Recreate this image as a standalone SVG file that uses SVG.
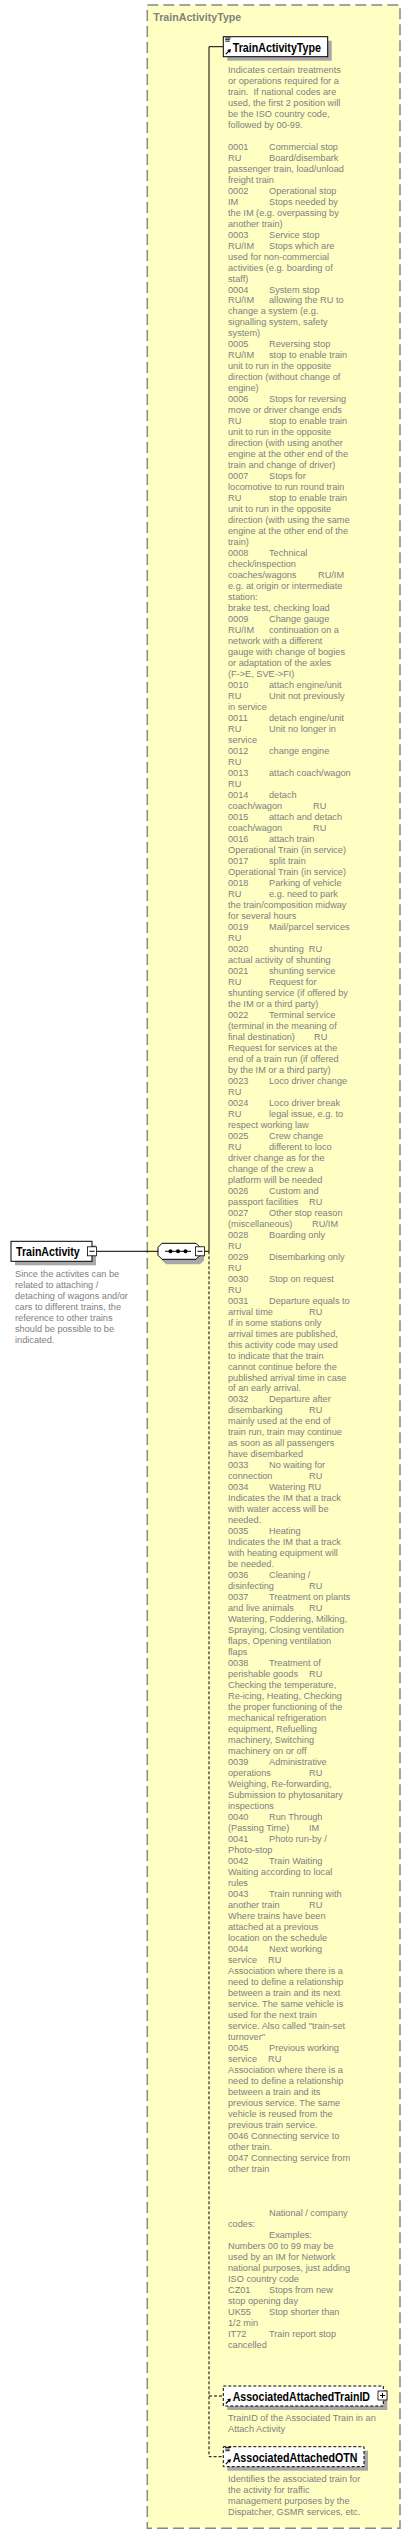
<svg xmlns="http://www.w3.org/2000/svg" xmlns:xlink="http://www.w3.org/1999/xlink" width="411" height="2534" viewBox="0 0 411 2534">
<style>
.d{font-family:"Liberation Sans",Arial,sans-serif;font-size:9.2px;fill:#808080}
.lbl{font-family:"Liberation Sans",Arial,sans-serif;font-size:12px;font-weight:bold;fill:#000}
.ttl{font-family:"Liberation Sans",Arial,sans-serif;font-size:11px;font-weight:bold;fill:#808080}
.box{fill:#fff;stroke:#000;stroke-width:1}
.obox{fill:#fff;stroke:#000;stroke-width:1;stroke-dasharray:3 2}
.sh{fill:#a8a8a8}
.con{fill:none;stroke:#000;stroke-width:1}
.dcon{fill:none;stroke:#000;stroke-width:1;stroke-dasharray:3 2}
</style>
<defs>
<g id="arr"><path d="M2.5 17.5 L5.5 14.5" stroke="#000" stroke-width="1.2" fill="none"/><polygon points="3.8,13.2 7.6,12.4 6.8,16.2" fill="#000"/></g>
<g id="lines" stroke="#000" stroke-width="0.9"><path d="M2 1.3 H7.5 M2 2.9 H6.5 M2 4.5 H6.5"/></g>
</defs>
<rect x="147.3" y="5" width="252.7" height="2523.3" fill="#ffffc4" stroke="#888" stroke-width="1.5" stroke-dasharray="11 5"/>
<text class="ttl" x="153.3" y="21" textLength="88" lengthAdjust="spacingAndGlyphs">TrainActivityType</text>
<g id="connectors">
<path class="con" d="M96 1251.3 H158"/>
<path class="con" d="M201 1251.3 H209 M209 1251.3 V46.7 H223.3"/>
<path class="dcon" d="M209 1251.3 V2456.7 H223.3 M209 2396 H223.3"/>
</g>
<g id="TrainActivity">
<rect class="sh" x="15" y="1245.3" width="81" height="20"/>
<rect class="box" x="11" y="1241.3" width="81" height="20"/>
<text class="lbl" x="16" y="1256" textLength="63.7" lengthAdjust="spacingAndGlyphs">TrainActivity</text>
<rect x="87.5" y="1246.8" width="9" height="9" fill="#fff" stroke="#000" stroke-width="0.8"/>
<path d="M89.5 1251.3 H94.5" stroke="#000" stroke-width="1"/>
<text class="d"><tspan x="15" y="1277">Since the activites can be</tspan><tspan x="15" dy="10.95">related to attaching /</tspan><tspan x="15" dy="10.95">detaching of wagons and/or</tspan><tspan x="15" dy="10.95">cars to different trains, the</tspan><tspan x="15" dy="10.95">reference to other trains</tspan><tspan x="15" dy="10.95">should be possible to be</tspan><tspan x="15" dy="10.95">indicated.</tspan></text>
</g>
<g id="sequence">
<path d="M166 1247.3 H200 L204 1251.3 V1260.3 L200 1264.3 H166 L162 1260.3 V1251.3 Z" fill="#a8a8a8"/>
<path d="M162 1243.3 H196 L200 1247.3 V1255.3 L196 1259.3 H162 L158 1255.3 V1247.3 Z" fill="#fff" stroke="#000" stroke-width="1"/>
<path d="M165 1251.3 H191" stroke="#000" stroke-width="1"/>
<circle cx="170.5" cy="1251.3" r="2" fill="#000"/><circle cx="178" cy="1251.3" r="2" fill="#000"/><circle cx="185.5" cy="1251.3" r="2" fill="#000"/>
<rect x="195.5" y="1246.8" width="9" height="9" fill="#fff" stroke="#000" stroke-width="0.8"/>
<path d="M197.5 1251.3 H202.5" stroke="#000" stroke-width="1"/>
</g>
<g id="TrainActivityType">
<rect class="sh" x="227.3" y="40.7" width="104.4" height="20"/>
<rect class="box" x="223.3" y="36.7" width="104.4" height="20"/>
<use xlink:href="#lines" x="223.3" y="36.7"/>
<use xlink:href="#arr" x="223.3" y="36.7"/>
<text class="lbl" x="232.7" y="51.7" textLength="88.3" lengthAdjust="spacingAndGlyphs">TrainActivityType</text>
<text class="d"><tspan x="228" y="72.7">Indicates certain treatments</tspan><tspan x="228" dy="10.99">or operations required for a</tspan><tspan x="228" dy="10.99">train.&#160; If national codes are</tspan><tspan x="228" dy="10.99">used, the first 2 position will</tspan><tspan x="228" dy="10.99">be the ISO country code,</tspan><tspan x="228" dy="10.99">followed by 00-99.</tspan><tspan x="228" dy="21.98">0001</tspan><tspan x="269">Commercial stop</tspan><tspan x="228" dy="10.99">RU</tspan><tspan x="269">Board/disembark</tspan><tspan x="228" dy="10.99">passenger train, load/unload</tspan><tspan x="228" dy="10.99">freight train</tspan><tspan x="228" dy="10.99">0002</tspan><tspan x="269">Operational stop</tspan><tspan x="228" dy="10.99">IM</tspan><tspan x="269">Stops needed by</tspan><tspan x="228" dy="10.99">the IM (e.g. overpassing by</tspan><tspan x="228" dy="10.99">another train)</tspan><tspan x="228" dy="10.99">0003</tspan><tspan x="269">Service stop</tspan><tspan x="228" dy="10.99">RU/IM</tspan><tspan x="269">Stops which are</tspan><tspan x="228" dy="10.99">used for non-commercial</tspan><tspan x="228" dy="10.99">activities (e.g. boarding of</tspan><tspan x="228" dy="10.99">staff)</tspan><tspan x="228" dy="10.99">0004</tspan><tspan x="269">System stop</tspan><tspan x="228" dy="10.99">RU/IM</tspan><tspan x="269">allowing the RU to</tspan><tspan x="228" dy="10.99">change a system (e.g.</tspan><tspan x="228" dy="10.99">signalling system, safety</tspan><tspan x="228" dy="10.99">system)</tspan><tspan x="228" dy="10.99">0005</tspan><tspan x="269">Reversing stop</tspan><tspan x="228" dy="10.99">RU/IM</tspan><tspan x="269">stop to enable train</tspan><tspan x="228" dy="10.99">unit to run in the opposite</tspan><tspan x="228" dy="10.99">direction (without change of</tspan><tspan x="228" dy="10.99">engine)</tspan><tspan x="228" dy="10.99">0006</tspan><tspan x="269">Stops for reversing</tspan><tspan x="228" dy="10.99">move or driver change ends</tspan><tspan x="228" dy="10.99">RU</tspan><tspan x="269">stop to enable train</tspan><tspan x="228" dy="10.99">unit to run in the opposite</tspan><tspan x="228" dy="10.99">direction (with using another</tspan><tspan x="228" dy="10.99">engine at the other end of the</tspan><tspan x="228" dy="10.99">train and change of driver)</tspan><tspan x="228" dy="10.99">0007</tspan><tspan x="269">Stops for</tspan><tspan x="228" dy="10.99">locomotive to run round train</tspan><tspan x="228" dy="10.99">RU</tspan><tspan x="269">stop to enable train</tspan><tspan x="228" dy="10.99">unit to run in the opposite</tspan><tspan x="228" dy="10.99">direction (with using the same</tspan><tspan x="228" dy="10.99">engine at the other end of the</tspan><tspan x="228" dy="10.99">train)</tspan><tspan x="228" dy="10.99">0008</tspan><tspan x="269">Technical</tspan><tspan x="228" dy="10.99">check/inspection</tspan><tspan x="228" dy="10.99">coaches/wagons</tspan><tspan x="318">RU/IM</tspan><tspan x="228" dy="10.99">e.g. at origin or intermediate</tspan><tspan x="228" dy="10.99">station:</tspan><tspan x="228" dy="10.99">brake test, checking load</tspan><tspan x="228" dy="10.99">0009</tspan><tspan x="269">Change gauge</tspan><tspan x="228" dy="10.99">RU/IM</tspan><tspan x="269">continuation on a</tspan><tspan x="228" dy="10.99">network with a different</tspan><tspan x="228" dy="10.99">gauge with change of bogies</tspan><tspan x="228" dy="10.99">or adaptation of the axles</tspan><tspan x="228" dy="10.99">(F-&gt;E, SVE-&gt;FI)</tspan><tspan x="228" dy="10.99">0010</tspan><tspan x="269">attach engine/unit</tspan><tspan x="228" dy="10.99">RU</tspan><tspan x="269">Unit not previously</tspan><tspan x="228" dy="10.99">in service</tspan><tspan x="228" dy="10.99">0011</tspan><tspan x="269">detach engine/unit</tspan><tspan x="228" dy="10.99">RU</tspan><tspan x="269">Unit no longer in</tspan><tspan x="228" dy="10.99">service</tspan><tspan x="228" dy="10.99">0012</tspan><tspan x="269">change engine</tspan><tspan x="228" dy="10.99">RU</tspan><tspan x="228" dy="10.99">0013</tspan><tspan x="269">attach coach/wagon</tspan><tspan x="228" dy="10.99">RU</tspan><tspan x="228" dy="10.99">0014</tspan><tspan x="269">detach</tspan><tspan x="228" dy="10.99">coach/wagon</tspan><tspan x="313">RU</tspan><tspan x="228" dy="10.99">0015</tspan><tspan x="269">attach and detach</tspan><tspan x="228" dy="10.99">coach/wagon</tspan><tspan x="313">RU</tspan><tspan x="228" dy="10.99">0016</tspan><tspan x="269">attach train</tspan><tspan x="228" dy="10.99">Operational Train (in service)</tspan><tspan x="228" dy="10.99">0017</tspan><tspan x="269">split train</tspan><tspan x="228" dy="10.99">Operational Train (in service)</tspan><tspan x="228" dy="10.99">0018</tspan><tspan x="269">Parking of vehicle</tspan><tspan x="228" dy="10.99">RU</tspan><tspan x="269">e.g. need to park</tspan><tspan x="228" dy="10.99">the train/composition midway</tspan><tspan x="228" dy="10.99">for several hours</tspan><tspan x="228" dy="10.99">0019</tspan><tspan x="269">Mail/parcel services</tspan><tspan x="228" dy="10.99">RU</tspan><tspan x="228" dy="10.99">0020</tspan><tspan x="269">shunting&#160; RU</tspan><tspan x="228" dy="10.99">actual activity of shunting</tspan><tspan x="228" dy="10.99">0021</tspan><tspan x="269">shunting service</tspan><tspan x="228" dy="10.99">RU</tspan><tspan x="269">Request for</tspan><tspan x="228" dy="10.99">shunting service (if offered by</tspan><tspan x="228" dy="10.99">the IM or a third party)</tspan><tspan x="228" dy="10.99">0022</tspan><tspan x="269">Terminal service</tspan><tspan x="228" dy="10.99">(terminal in the meaning of</tspan><tspan x="228" dy="10.99">final destination)</tspan><tspan x="314">RU</tspan><tspan x="228" dy="10.99">Request for services at the</tspan><tspan x="228" dy="10.99">end of a train run (if offered</tspan><tspan x="228" dy="10.99">by the IM or a third party)</tspan><tspan x="228" dy="10.99">0023</tspan><tspan x="269">Loco driver change</tspan><tspan x="228" dy="10.99">RU</tspan><tspan x="228" dy="10.99">0024</tspan><tspan x="269">Loco driver break</tspan><tspan x="228" dy="10.99">RU</tspan><tspan x="269">legal issue, e.g. to</tspan><tspan x="228" dy="10.99">respect working law</tspan><tspan x="228" dy="10.99">0025</tspan><tspan x="269">Crew change</tspan><tspan x="228" dy="10.99">RU</tspan><tspan x="269">different to loco</tspan><tspan x="228" dy="10.99">driver change as for the</tspan><tspan x="228" dy="10.99">change of the crew a</tspan><tspan x="228" dy="10.99">platform will be needed</tspan><tspan x="228" dy="10.99">0026</tspan><tspan x="269">Custom and</tspan><tspan x="228" dy="10.99">passport facilities</tspan><tspan x="309">RU</tspan><tspan x="228" dy="10.99">0027</tspan><tspan x="269">Other stop reason</tspan><tspan x="228" dy="10.99">(miscellaneous)</tspan><tspan x="312">RU/IM</tspan><tspan x="228" dy="10.99">0028</tspan><tspan x="269">Boarding only</tspan><tspan x="228" dy="10.99">RU</tspan><tspan x="228" dy="10.99">0029</tspan><tspan x="269">Disembarking only</tspan><tspan x="228" dy="10.99">RU</tspan><tspan x="228" dy="10.99">0030</tspan><tspan x="269">Stop on request</tspan><tspan x="228" dy="10.99">RU</tspan><tspan x="228" dy="10.99">0031</tspan><tspan x="269">Departure equals to</tspan><tspan x="228" dy="10.99">arrival time</tspan><tspan x="309">RU</tspan><tspan x="228" dy="10.99">If in some stations only</tspan><tspan x="228" dy="10.99">arrival times are published,</tspan><tspan x="228" dy="10.99">this activity code may used</tspan><tspan x="228" dy="10.99">to indicate that the train</tspan><tspan x="228" dy="10.99">cannot continue before the</tspan><tspan x="228" dy="10.99">published arrival time in case</tspan><tspan x="228" dy="10.99">of an early arrival.</tspan><tspan x="228" dy="10.99">0032</tspan><tspan x="269">Departure after</tspan><tspan x="228" dy="10.99">disembarking</tspan><tspan x="309">RU</tspan><tspan x="228" dy="10.99">mainly used at the end of</tspan><tspan x="228" dy="10.99">train run, train may continue</tspan><tspan x="228" dy="10.99">as soon as all passengers</tspan><tspan x="228" dy="10.99">have disembarked</tspan><tspan x="228" dy="10.99">0033</tspan><tspan x="269">No waiting for</tspan><tspan x="228" dy="10.99">connection</tspan><tspan x="309">RU</tspan><tspan x="228" dy="10.99">0034</tspan><tspan x="269">Watering RU</tspan><tspan x="228" dy="10.99">Indicates the IM that a track</tspan><tspan x="228" dy="10.99">with water access will be</tspan><tspan x="228" dy="10.99">needed.</tspan><tspan x="228" dy="10.99">0035</tspan><tspan x="269">Heating</tspan><tspan x="228" dy="10.99">Indicates the IM that a track</tspan><tspan x="228" dy="10.99">with heating equipment will</tspan><tspan x="228" dy="10.99">be needed.</tspan><tspan x="228" dy="10.99">0036</tspan><tspan x="269">Cleaning /</tspan><tspan x="228" dy="10.99">disinfecting</tspan><tspan x="309">RU</tspan><tspan x="228" dy="10.99">0037</tspan><tspan x="269">Treatment on plants</tspan><tspan x="228" dy="10.99">and live animals</tspan><tspan x="309">RU</tspan><tspan x="228" dy="10.99">Watering, Foddering, Milking,</tspan><tspan x="228" dy="10.99">Spraying, Closing ventilation</tspan><tspan x="228" dy="10.99">flaps, Opening ventilation</tspan><tspan x="228" dy="10.99">flaps</tspan><tspan x="228" dy="10.99">0038</tspan><tspan x="269">Treatment of</tspan><tspan x="228" dy="10.99">perishable goods</tspan><tspan x="309">RU</tspan><tspan x="228" dy="10.99">Checking the temperature,</tspan><tspan x="228" dy="10.99">Re-icing, Heating, Checking</tspan><tspan x="228" dy="10.99">the proper functioning of the</tspan><tspan x="228" dy="10.99">mechanical refrigeration</tspan><tspan x="228" dy="10.99">equipment, Refuelling</tspan><tspan x="228" dy="10.99">machinery, Switching</tspan><tspan x="228" dy="10.99">machinery on or off</tspan><tspan x="228" dy="10.99">0039</tspan><tspan x="269">Administrative</tspan><tspan x="228" dy="10.99">operations</tspan><tspan x="309">RU</tspan><tspan x="228" dy="10.99">Weighing, Re-forwarding,</tspan><tspan x="228" dy="10.99">Submission to phytosanitary</tspan><tspan x="228" dy="10.99">inspections</tspan><tspan x="228" dy="10.99">0040</tspan><tspan x="269">Run Through</tspan><tspan x="228" dy="10.99">(Passing Time)</tspan><tspan x="309">IM</tspan><tspan x="228" dy="10.99">0041</tspan><tspan x="269">Photo run-by /</tspan><tspan x="228" dy="10.99">Photo-stop</tspan><tspan x="228" dy="10.99">0042</tspan><tspan x="269">Train Waiting</tspan><tspan x="228" dy="10.99">Waiting according to local</tspan><tspan x="228" dy="10.99">rules</tspan><tspan x="228" dy="10.99">0043</tspan><tspan x="269">Train running with</tspan><tspan x="228" dy="10.99">another train</tspan><tspan x="309">RU</tspan><tspan x="228" dy="10.99">Where trains have been</tspan><tspan x="228" dy="10.99">attached at a previous</tspan><tspan x="228" dy="10.99">location on the schedule</tspan><tspan x="228" dy="10.99">0044</tspan><tspan x="269">Next working</tspan><tspan x="228" dy="10.99">service</tspan><tspan x="268">RU</tspan><tspan x="228" dy="10.99">Association where there is a</tspan><tspan x="228" dy="10.99">need to define a relationship</tspan><tspan x="228" dy="10.99">between a train and its next</tspan><tspan x="228" dy="10.99">service. The same vehicle is</tspan><tspan x="228" dy="10.99">used for the next train</tspan><tspan x="228" dy="10.99">service. Also called "train-set</tspan><tspan x="228" dy="10.99">turnover"</tspan><tspan x="228" dy="10.99">0045</tspan><tspan x="269">Previous working</tspan><tspan x="228" dy="10.99">service</tspan><tspan x="268">RU</tspan><tspan x="228" dy="10.99">Association where there is a</tspan><tspan x="228" dy="10.99">need to define a relationship</tspan><tspan x="228" dy="10.99">between a train and its</tspan><tspan x="228" dy="10.99">previous service. The same</tspan><tspan x="228" dy="10.99">vehicle is reused from the</tspan><tspan x="228" dy="10.99">previous train service.</tspan><tspan x="228" dy="10.99">0046 Connecting service to</tspan><tspan x="228" dy="10.99">other train.</tspan><tspan x="228" dy="10.99">0047 Connecting service from</tspan><tspan x="228" dy="10.99">other train</tspan><tspan x="269" dy="43.96">National / company</tspan><tspan x="228" dy="10.99">codes:</tspan><tspan x="269" dy="10.99">Examples:</tspan><tspan x="228" dy="10.99">Numbers 00 to 99 may be</tspan><tspan x="228" dy="10.99">used by an IM for Network</tspan><tspan x="228" dy="10.99">national purposes, just adding</tspan><tspan x="228" dy="10.99">ISO country code</tspan><tspan x="228" dy="10.99">CZ01</tspan><tspan x="269">Stops from new</tspan><tspan x="228" dy="10.99">stop opening day</tspan><tspan x="228" dy="10.99">UK55</tspan><tspan x="269">Stop shorter than</tspan><tspan x="228" dy="10.99">1/2 min</tspan><tspan x="228" dy="10.99">IT72</tspan><tspan x="269">Train report stop</tspan><tspan x="228" dy="10.99">cancelled</tspan></text>
</g>
<g id="AssociatedAttachedTrainID">
<rect class="sh" x="227.3" y="2390" width="160" height="20"/>
<rect class="obox" x="223.3" y="2386" width="160" height="20"/>
<use xlink:href="#arr" x="223.3" y="2386"/>
<text class="lbl" x="232.7" y="2401" textLength="137.3" lengthAdjust="spacingAndGlyphs">AssociatedAttachedTrainID</text>
<rect x="378" y="2391" width="9" height="9" fill="#fff" stroke="#000" stroke-width="0.8"/>
<path d="M380 2395.5 H385 M382.5 2393 V2398" stroke="#000" stroke-width="1"/>
<text class="d"><tspan x="228" y="2420.7">TrainID of the Associated Train in an</tspan><tspan x="228" dy="10.99">Attach Activity</tspan></text>
</g>
<g id="AssociatedAttachedOTN">
<rect class="sh" x="227.3" y="2450.7" width="140.7" height="20"/>
<rect class="obox" x="223.3" y="2446.7" width="140.7" height="20"/>
<use xlink:href="#lines" x="223.3" y="2446.2"/>
<use xlink:href="#arr" x="223.3" y="2446.7"/>
<text class="lbl" x="232.7" y="2461.5" textLength="124.7" lengthAdjust="spacingAndGlyphs">AssociatedAttachedOTN</text>
<text class="d"><tspan x="228" y="2482">Identifies the associated train for</tspan><tspan x="228" dy="10.99">the activity for traffic</tspan><tspan x="228" dy="10.99">management purposes by the</tspan><tspan x="228" dy="10.99">Dispatcher, GSMR services, etc.</tspan></text>
</g>
</svg>
